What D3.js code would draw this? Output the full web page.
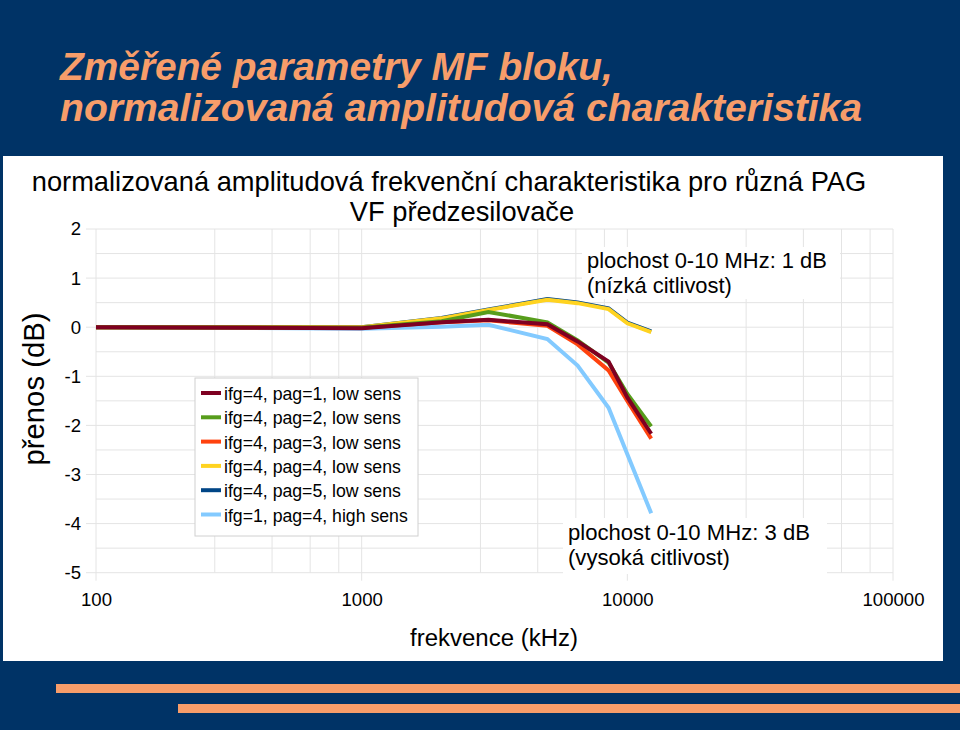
<!DOCTYPE html>
<html>
<head>
<meta charset="utf-8">
<script src="https://cdn.jsdelivr.net/npm/d3@7"></script>
<style>
  html, body { margin: 0; padding: 0; background: #003366; }
  svg { display: block; }
  text { font-family: "Liberation Sans", Arial, sans-serif; }
</style>
</head>
<body>
<svg id="chart" width="960" height="730"></svg>
<script>
// ---- data ----
const freqKHz = [100, 1000, 2000, 3000, 5000, 6500, 8500, 10000, 12300];
const seriesNames = [
  "ifg=4, pag=1, low sens",
  "ifg=4, pag=2, low sens",
  "ifg=4, pag=3, low sens",
  "ifg=4, pag=4, low sens",
  "ifg=4, pag=5, low sens",
  "ifg=1, pag=4, high sens"
];
const pag1Low = [0, -0.02, 0.10, 0.15, 0.06, -0.29, -0.70, -1.43, -2.17];
const pag2Low = [0, -0.01, 0.12, 0.31, 0.10, -0.27, -0.72, -1.36, -2.02];
const pag3Low = [0, -0.01, 0.10, 0.14, 0.03, -0.35, -0.88, -1.50, -2.27];
const pag4Low = [0, 0.00, 0.18, 0.35, 0.56, 0.49, 0.37, 0.08, -0.10];
const pag5Low = [0, 0.00, 0.19, 0.36, 0.575, 0.505, 0.385, 0.095, -0.085];
const pag4High = [0, -0.03, 0.01, 0.05, -0.24, -0.78, -1.64, -2.59, -3.79];
const seriesColors = ["#7e0021", "#579d1c", "#ff420e", "#ffd320", "#004586", "#83caff"];
const xTickValues = [100, 1000, 10000, 100000];
const yTickValues = [-5, -4, -3, -2, -1, 0, 1, 2];
const slideTitle = ["Změřené parametry MF bloku,", "normalizovaná amplitudová charakteristika"];
const chartTitle = ["normalizovaná amplitudová frekvenční charakteristika pro různá PAG", "VF předzesilovače"];
const xAxisTitle = "frekvence (kHz)";
const yAxisTitle = "přenos (dB)";
const noteLow = ["plochost 0-10 MHz: 1 dB", "(nízká citlivost)"];
const noteHigh = ["plochost 0-10 MHz: 3 dB", "(vysoká citlivost)"];

const allValues = [pag1Low, pag2Low, pag3Low, pag4Low, pag5Low, pag4High];

// ---- layout ----
const svg = d3.select("#chart");
const W = 960, H = 730;

function fit(sel, width) {
  const node = sel.node();
  const fs = parseFloat(sel.attr("font-size"));
  const w = node.getComputedTextLength();
  const nfs = fs * width / w;
  sel.attr("font-size", nfs.toFixed(2));
  return nfs;
}

svg.append("rect").attr("width", W).attr("height", H).attr("fill", "#003366");

// slide title
const tcol = "#f79d6a";
const st1 = svg.append("text").attr("x", 60).attr("y", 80).attr("font-size", 36)
  .attr("font-weight", "bold").attr("font-style", "italic").attr("fill", tcol).text(slideTitle[0]);
fit(st1, 553);
const st2 = svg.append("text").attr("x", 60).attr("y", 121).attr("font-size", 36)
  .attr("font-weight", "bold").attr("font-style", "italic").attr("fill", tcol).text(slideTitle[1]);
fit(st2, 802);

// bottom bars
svg.append("rect").attr("x", 56).attr("y", 684).attr("width", W - 56).attr("height", 9).attr("fill", "#f79d6a");
svg.append("rect").attr("x", 178).attr("y", 704).attr("width", W - 178).attr("height", 9).attr("fill", "#f79d6a");

// white panel
svg.append("rect").attr("x", 3).attr("y", 156).attr("width", 940).attr("height", 505).attr("fill", "#ffffff");

// chart title
const ct1 = svg.append("text").attr("x", 449).attr("y", 191).attr("text-anchor", "middle")
  .attr("font-size", 24).attr("fill", "#000").text(chartTitle[0]);
fit(ct1, 835);
const ct2 = svg.append("text").attr("x", 462).attr("y", 221).attr("text-anchor", "middle")
  .attr("font-size", ct1.attr("font-size")).attr("fill", "#000").text(chartTitle[1]);

// scales
const x = d3.scaleLog().domain([100, 100000]).range([96, 893]);
const y = d3.scaleLinear().domain([-5, 2]).range([572.7, 229]);

const grid = svg.append("g");
const gridColor = "#e4e4e4";
// horizontal grid every 0.5
d3.range(-5, 2.01, 0.5).forEach(v => {
  const major = Math.abs(v - Math.round(v)) < 1e-6;
  grid.append("line").attr("x1", major ? 86 : x(100)).attr("x2", x(100000))
    .attr("y1", y(v)).attr("y2", y(v)).attr("stroke", gridColor).attr("stroke-width", 1);
});
// vertical grid: decades and 5 linear minor intervals
const vLines = [];
[100, 1000, 10000].forEach(d => {
  vLines.push({ v: d, major: true });
  [2.8, 4.6, 6.4, 8.2].forEach(m => vLines.push({ v: d * m, major: false }));
});
vLines.push({ v: 100000, major: true });
vLines.forEach(l => {
  grid.append("line").attr("x1", x(l.v)).attr("x2", x(l.v))
    .attr("y1", y(2)).attr("y2", l.major ? y(-5) + 8 : y(-5))
    .attr("stroke", gridColor).attr("stroke-width", 1);
});

// axes labels
const fmt = d => String(d);
const yAxis = d3.axisLeft(y).tickValues(yTickValues).tickSize(0).tickPadding(0).tickFormat(fmt);
const gy = svg.append("g").attr("transform", "translate(81,0)").call(yAxis);
gy.select(".domain").remove();
gy.selectAll("text").attr("font-size", 17).attr("fill", "#000")
  .attr("font-family", "'Liberation Sans', Arial, sans-serif");

const xAxis = d3.axisBottom(x).tickValues(xTickValues).tickSize(0).tickPadding(0).tickFormat(fmt);
const gx = svg.append("g").attr("transform", "translate(0,593)").call(xAxis);
gx.select(".domain").remove();
gx.selectAll("text").attr("font-size", 16).attr("fill", "#000")
  .attr("font-family", "'Liberation Sans', Arial, sans-serif");
// size x labels so that "100000" spans ~62px
const lastX = gx.selectAll("text").filter(d => d === 100000);
const xfs = fit(lastX, 62);
gx.selectAll("text").attr("font-size", xfs.toFixed(2));
gy.selectAll("text").attr("font-size", xfs.toFixed(2));

// axis titles
const xt = svg.append("text").attr("x", 494).attr("y", 646).attr("text-anchor", "middle")
  .attr("font-size", 21).attr("fill", "#000").text(xAxisTitle);
fit(xt, 168);
const yt = svg.append("text").attr("transform", "translate(44,389) rotate(-90)").attr("text-anchor", "middle")
  .attr("font-size", 21).attr("fill", "#000").text(yAxisTitle);
fit(yt, 153);

// lines (drawn in reverse order so pag=1 is on top)
const line = d3.line().x((d, i) => x(freqKHz[i])).y(d => y(d));
const lines = svg.append("g");
for (let s = allValues.length - 1; s >= 0; s--) {
  lines.append("path").datum(allValues[s]).attr("d", line)
    .attr("fill", "none").attr("stroke", seriesColors[s]).attr("stroke-width", 4)
    .attr("stroke-linejoin", "miter");
}

// legend
const lg = svg.append("g");
lg.append("rect").attr("x", 195).attr("y", 378).attr("width", 223).attr("height", 158)
  .attr("fill", "#fff").attr("stroke", "#d0d0d0").attr("stroke-width", 1);
let legendFs = 15;
seriesNames.forEach((n, i) => {
  const cy = 395 + i * 24.3;
  lg.append("line").attr("x1", 201).attr("x2", 221).attr("y1", cy - 2).attr("y2", cy - 2)
    .attr("stroke", seriesColors[i]).attr("stroke-width", 4);
  const t = lg.append("text").attr("x", 224).attr("y", cy + 5).attr("font-size", legendFs)
    .attr("fill", "#000").text(n);
  if (i === 0) legendFs = fit(t, 177);
});

// annotations
function note(lines, x0, y0, bx, by, bw, bh, width) {
  svg.append("rect").attr("x", bx).attr("y", by).attr("width", bw).attr("height", bh).attr("fill", "#fff");
  let fs = 19.5;
  lines.forEach((l, i) => {
    const t = svg.append("text").attr("x", x0).attr("y", y0 + i * 25).attr("font-size", fs)
      .attr("fill", "#000").text(l);
    if (i === 0) fs = fit(t, width);
  });
}
note(noteLow, 587, 268, 582, 247, 258, 52, 240);
note(noteHigh, 568, 540, 563, 518, 264, 56, 242);
</script>
</body>
</html>
